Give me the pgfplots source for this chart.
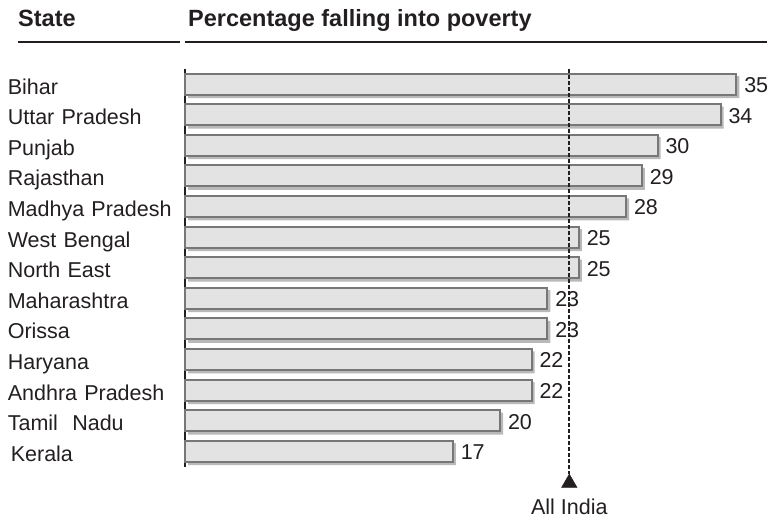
\documentclass[border=0pt]{standalone}
\usepackage{pgfplots}
\pgfplotsset{compat=1.18}
\usepackage{fontspec}
\setmainfont{Liberation Sans}

\definecolor{barfill}{HTML}{E3E3E3}
\definecolor{barline}{HTML}{777777}
\definecolor{barshadow}{HTML}{B9B9B9}
\definecolor{ink}{HTML}{231F20}

\begin{document}
\begin{tikzpicture}[x=1pt,y=1pt]
\useasboundingbox (0,0) rectangle (770,520);

% column headings with their rules
\node[anchor=base west, inner sep=0pt, text=ink, font=\fontsize{23.5}{26}\selectfont\bfseries] at (18,493) {State};
\node[anchor=base west, inner sep=0pt, text=ink, font=\fontsize{23.5}{26}\selectfont\bfseries] at (188,493) {Percentage falling into poverty};
\draw[line width=1.6pt, ink] (18,478) -- (180,478);
\draw[line width=1.6pt, ink] (185,478) -- (767,478);

\begin{axis}[
  at={(185pt,451.3pt)}, anchor=north west,
  scale only axis,
  width=551.25pt, height=397.8pt,
  xmin=0, xmax=35,
  ymin=-0.5, ymax=12.5,
  y dir=reverse,
  clip=false,
  axis x line=none,
  axis y line=left,
  y axis line style={-, line width=1.4pt, ink},
  ytick={0,...,12},
  major tick length=0pt,
  /pgf/number format/assume math mode=true,
  yticklabels={Bihar, Uttar Pradesh, Punjab, Rajasthan, Madhya Pradesh, West Bengal, North East, Maharashtra, Orissa, Haryana, Andhra Pradesh, Tamil\ \ Nadu, \hspace{3pt}Kerala},
  yticklabel style={anchor=east, text width=176pt, align=left, inner sep=0pt, xshift=-1pt,
    text height=20pt, text depth=0pt,
    text=ink, font=\fontsize{21.5}{24}\selectfont},
]
% drop shadow under each bar
\addplot[xbar, bar width=22pt, bar shift=0pt, fill=barshadow, draw=none,
  xshift=3pt, yshift=-3pt, forget plot]
  coordinates {(35,0) (34,1) (30,2) (29,3) (28,4) (25,5) (25,6) (23,7) (23,8) (22,9) (22,10) (20,11) (17,12)};
% the bars with their values
\addplot[xbar, bar width=21pt, bar shift=0pt, fill=barfill, draw=barline, line width=2pt,
  nodes near coords={\pgfmathprintnumber{\pgfplotspointmeta}},
  nodes near coords style={anchor=west, inner sep=0pt, xshift=7pt, yshift=0pt,
    text height=17pt, text depth=0pt, text=ink, font=\fontsize{21.5}{24}\selectfont},
  point meta=x]
  coordinates {(35,0) (34,1) (30,2) (29,3) (28,4) (25,5) (25,6) (23,7) (23,8) (22,9) (22,10) (20,11) (17,12)};
% All India average
\addplot[ink, line width=2.3pt, dash pattern=on 4pt off 2pt] coordinates {(24.4,-0.5) (24.4,12.74)};
\addplot[ink, only marks, mark=triangle*, mark size=9pt] coordinates {(24.4,13.04)};
\node[text=ink, font=\fontsize{21.5}{24}\selectfont, inner sep=0pt] at (axis cs:24.4,13.82) {All India};
\end{axis}
\end{tikzpicture}
\end{document}
